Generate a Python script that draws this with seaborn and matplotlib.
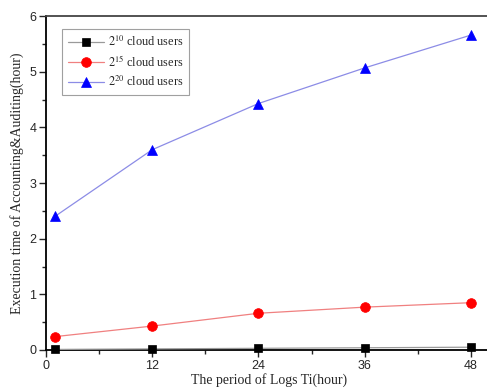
import matplotlib
matplotlib.use("Agg")
import matplotlib.pyplot as plt
from matplotlib.ticker import MultipleLocator
import seaborn as sns
import pandas as pd

periods = [1, 12, 24, 36, 48]
users_2_10 = [0.01, 0.02, 0.03, 0.04, 0.05]
users_2_15 = [0.24, 0.43, 0.66, 0.77, 0.85]
users_2_20 = [2.40, 3.60, 4.43, 5.07, 5.66]
labels = [r"$2^{10}$ cloud users", r"$2^{15}$ cloud users", r"$2^{20}$ cloud users"]
x_ticks = [0, 12, 24, 36, 48]

sns.set_style("ticks")
plt.rcParams["mathtext.fontset"] = "stix"
plt.rcParams["font.family"] = ["Liberation Sans", "DejaVu Sans"]

fig = plt.figure(figsize=(4.87, 3.9), dpi=100)
ax = fig.add_axes([0.0945, 0.1026, 0.918, 0.856])

series = [users_2_10, users_2_15, users_2_20]
styles = [
    dict(line="#9a9a9a", face="black", marker="s", ms=6),
    dict(line="#f08080", face="red", marker="o", ms=7),
    dict(line="#8c8ce6", face="blue", marker="^", ms=7),
]
for vals, lab, st in zip(series, labels, styles):
    df = pd.DataFrame({"x": periods, "y": vals})
    sns.lineplot(data=df, x="x", y="y", ax=ax, color=st["line"], linewidth=0.9,
                 marker=st["marker"], markersize=st["ms"],
                 markerfacecolor=st["face"], markeredgecolor=st["face"],
                 markeredgewidth=0.5, label=lab, clip_on=False, zorder=3)

ax.set_xlim(0, 50.5)
ax.set_ylim(0, 6)
ax.set_xticks(x_ticks)
ax.xaxis.set_minor_locator(MultipleLocator(6))
ax.yaxis.set_major_locator(MultipleLocator(1))
ax.yaxis.set_minor_locator(MultipleLocator(0.5))
ax.tick_params(axis="both", which="major", direction="out", length=5, width=1,
               labelsize=9, pad=2)
ax.tick_params(axis="both", which="minor", direction="out", length=3, width=1)
for s in ["left", "bottom"]:
    ax.spines[s].set_linewidth(1.3)
    ax.spines[s].set_color("black")
ax.spines["top"].set_linewidth(1.3)
ax.spines["top"].set_color("#444444")
ax.spines["right"].set_visible(False)

ax.set_xlabel("The period of Logs Ti(hour)", family="Liberation Serif", fontsize=10, labelpad=1)
ax.set_ylabel("Execution time of Accounting&Auditing(hour)", family="Liberation Serif",
              fontsize=10, labelpad=4)

leg = ax.legend(loc="upper left", bbox_to_anchor=(0.036, 0.961), borderaxespad=0,
                frameon=True, fancybox=False, edgecolor="#888888", borderpad=0.45,
                labelspacing=0.45, handlelength=3.0, handletextpad=0.3,
                prop={"family": "Liberation Serif", "size": 8.8})
leg.get_frame().set_linewidth(0.8)

fig.savefig("out.png", dpi=100)
